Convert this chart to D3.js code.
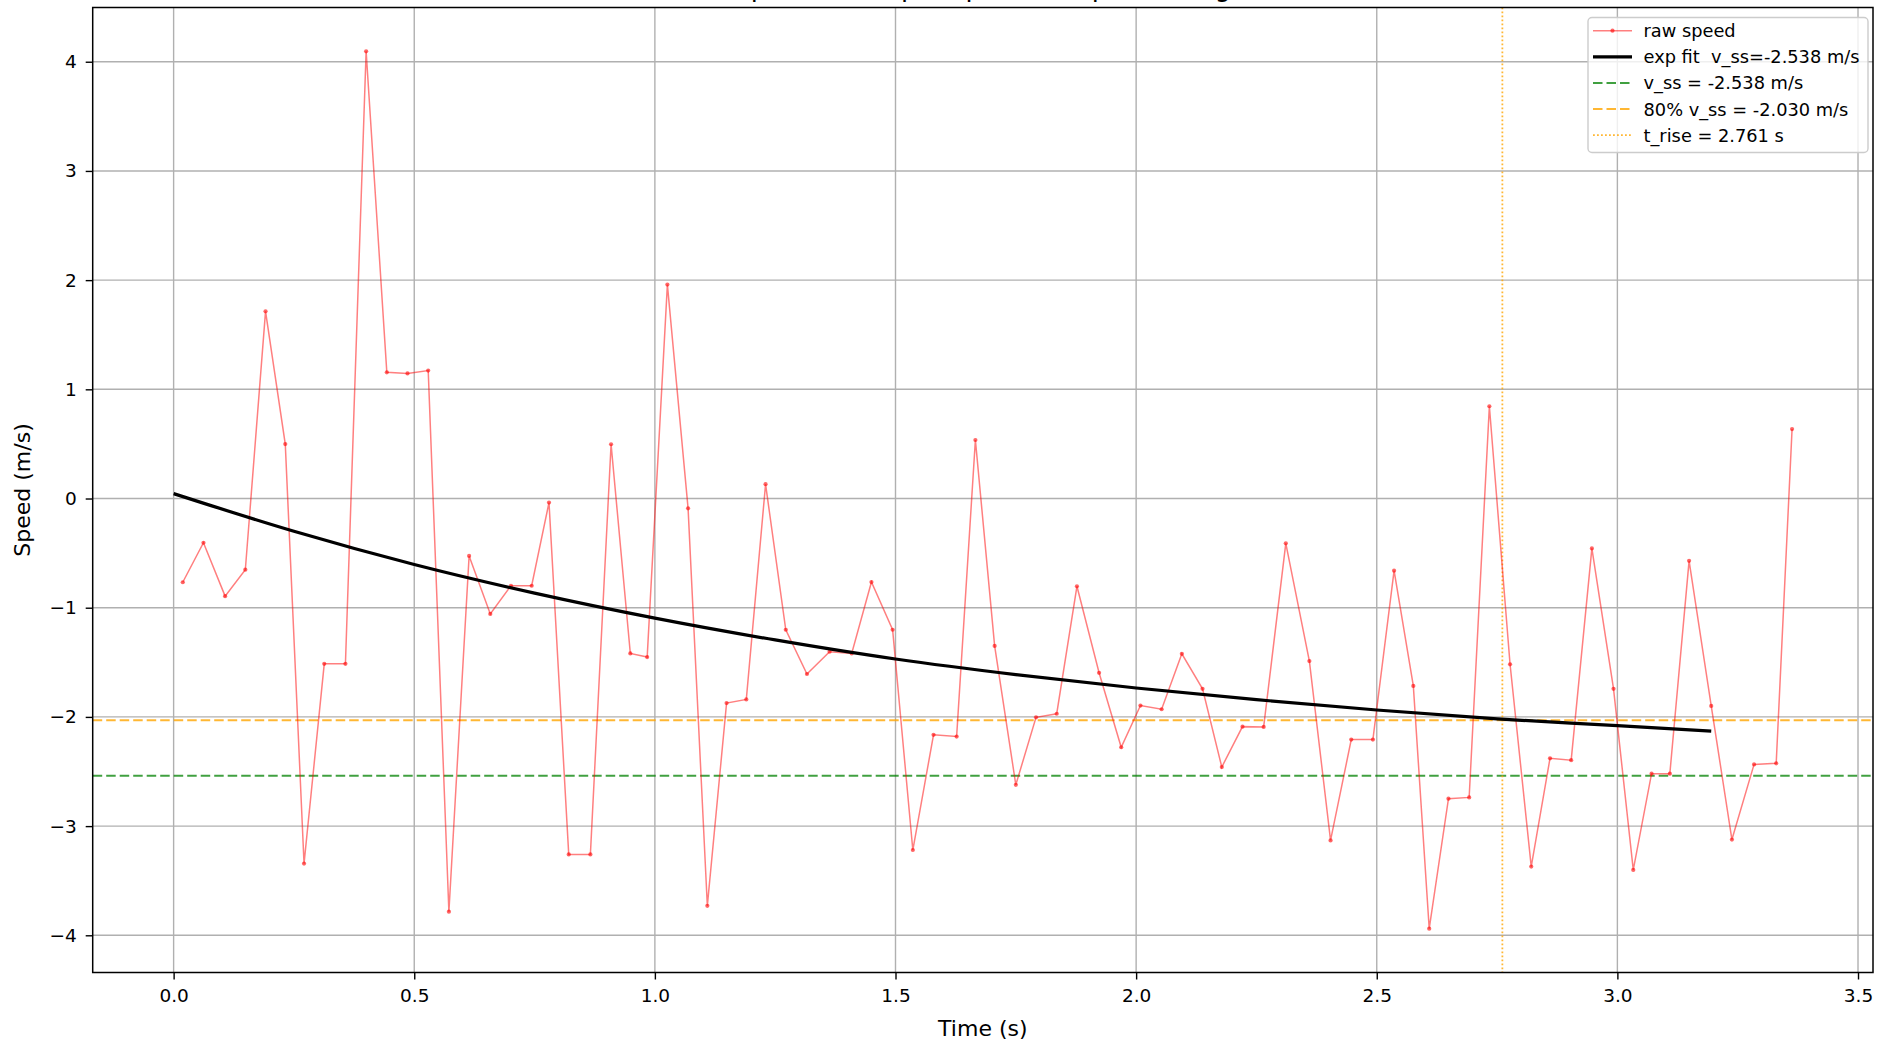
<!DOCTYPE html>
<html>
<head>
<meta charset="utf-8">
<script src="https://cdn.jsdelivr.net/npm/d3@7"></script>
<style>
  html, body { margin: 0; padding: 0; background: #fff; }
  svg { display: block; font-family: "DejaVu Sans", sans-serif; }
  .legend-text { white-space: pre; }
</style>
</head>
<body>
<div id="chart"></div>
<script>
// raw speed samples
const times = [0.019, 0.062, 0.107, 0.149, 0.191, 0.232, 0.271, 0.313, 0.357, 0.400,
  0.443, 0.486, 0.529, 0.572, 0.614, 0.658, 0.701, 0.744, 0.780, 0.821,
  0.866, 0.909, 0.949, 0.984, 1.026, 1.069, 1.109, 1.149, 1.190, 1.230,
  1.272, 1.316, 1.363, 1.409, 1.450, 1.494, 1.536, 1.579, 1.627, 1.666,
  1.706, 1.750, 1.792, 1.835, 1.877, 1.923, 1.969, 2.009, 2.053, 2.095,
  2.138, 2.178, 2.221, 2.265, 2.311, 2.360, 2.404, 2.447, 2.492, 2.536,
  2.576, 2.609, 2.649, 2.692, 2.734, 2.777, 2.821, 2.860, 2.904, 2.947,
  2.992, 3.033, 3.071, 3.109, 3.149, 3.195, 3.238, 3.284, 3.330, 3.363];
const speeds = [-0.767, -0.405, -0.894, -0.652, 1.714, 0.499, -3.343, -1.514, -1.514, 4.095,
  1.156, 1.146, 1.172, -3.784, -0.526, -1.057, -0.799, -0.799, -0.037, -3.259,
  -3.259, 0.497, -1.419, -1.452, 1.959, -0.090, -3.730, -1.873, -1.840, 0.131,
  -1.202, -1.607, -1.403, -1.419, -0.765, -1.202, -3.219, -2.164, -2.180, 0.536,
  -1.350, -2.622, -2.004, -1.971, -0.804, -1.596, -2.278, -1.896, -1.930, -1.422,
  -1.743, -2.459, -2.089, -2.092, -0.410, -1.489, -3.131, -2.208, -2.208, -0.661,
  -1.716, -3.939, -2.749, -2.737, 0.845, -1.518, -3.371, -2.379, -2.396, -0.457,
  -1.743, -3.401, -2.520, -2.520, -0.571, -1.899, -3.123, -2.435, -2.425, 0.636];

// exp fit curve, read at a few times
const fitTimes = [0, 0.25, 0.5, 0.75, 1.0, 1.25, 1.5, 1.75, 2.0, 2.25, 2.5, 2.75, 3.0, 3.195];
const fitSpeeds = [0.045, -0.300, -0.604, -0.866, -1.095, -1.295, -1.470, -1.613, -1.735, -1.842, -1.937, -2.018, -2.080, -2.131];

const vSS = -2.538;
const v80 = -2.030;
const tRise = 2.761;

const xTicks = [0.0, 0.5, 1.0, 1.5, 2.0, 2.5, 3.0, 3.5];
const yTicks = [-4, -3, -2, -1, 0, 1, 2, 3, 4];

const legendLabels = ["raw speed", "exp fit  v_ss=-2.538 m/s", "v_ss = -2.538 m/s",
  "80% v_ss = -2.030 m/s", "t_rise = 2.761 s"];

const width = 1878;
const height = 1048;
const margin = { top: 7.5, right: 5, bottom: 75.5, left: 92.7 };

const svg = d3.select("#chart").append("svg")
  .attr("width", width)
  .attr("height", height);

// 5% padding like matplotlib autoscale
const xMin = Math.min(d3.min(times), d3.min(fitTimes));
const xMax = Math.max(d3.max(times), d3.max(fitTimes));
const yMin = d3.min(speeds), yMax = d3.max(speeds);
const xPad = (xMax - xMin) * 0.05, yPad = (yMax - yMin) * 0.05;

const x = d3.scaleLinear()
  .domain([xMin - xPad, xMax + xPad])
  .range([margin.left, width - margin.right]);
const y = d3.scaleLinear()
  .domain([yMin - yPad, yMax + yPad])
  .range([height - margin.bottom, margin.top]);

const plotW = width - margin.right - margin.left;
const plotH = height - margin.bottom - margin.top;

// title (cut off by the top edge in the original, only descenders show)
svg.append("text")
  .attr("x", margin.left + plotW / 2)
  .attr("y", -4)
  .attr("text-anchor", "middle")
  .attr("font-size", 26)
  .text("Speed vs step response: exp fit, rising");

// grid
const grid = svg.append("g").attr("stroke", "#b0b0b0").attr("stroke-width", 1.4);
grid.selectAll(".gx").data(xTicks).enter().append("line")
  .attr("x1", d => x(d)).attr("x2", d => x(d))
  .attr("y1", margin.top).attr("y2", height - margin.bottom);
grid.selectAll(".gy").data(yTicks).enter().append("line")
  .attr("x1", margin.left).attr("x2", width - margin.right)
  .attr("y1", d => y(d)).attr("y2", d => y(d));

svg.append("clipPath").attr("id", "plot-clip")
  .append("rect")
  .attr("x", margin.left).attr("y", margin.top)
  .attr("width", plotW).attr("height", plotH);

const plot = svg.append("g").attr("clip-path", "url(#plot-clip)");

// reference lines
plot.append("line")
  .attr("x1", margin.left).attr("x2", width - margin.right)
  .attr("y1", y(vSS)).attr("y2", y(vSS))
  .attr("stroke", "green").attr("stroke-opacity", 0.75)
  .attr("stroke-width", 2).attr("stroke-dasharray", "9.5,4");
plot.append("line")
  .attr("x1", margin.left).attr("x2", width - margin.right)
  .attr("y1", y(v80)).attr("y2", y(v80))
  .attr("stroke", "orange").attr("stroke-opacity", 0.8)
  .attr("stroke-width", 2).attr("stroke-dasharray", "9.5,4");
plot.append("line")
  .attr("x1", x(tRise)).attr("x2", x(tRise))
  .attr("y1", margin.top).attr("y2", height - margin.bottom)
  .attr("stroke", "orange").attr("stroke-opacity", 0.8)
  .attr("stroke-width", 1.8).attr("stroke-dasharray", "1.8,2.2");

// raw speed
const raw = times.map((t, i) => ({ t: t, v: speeds[i] }));
const line = d3.line().x(d => x(d.t)).y(d => y(d.v));
plot.append("path")
  .datum(raw)
  .attr("d", line)
  .attr("fill", "none")
  .attr("stroke", "red").attr("stroke-opacity", 0.5)
  .attr("stroke-width", 1.5);
plot.selectAll(".pt").data(raw).enter().append("circle")
  .attr("cx", d => x(d.t)).attr("cy", d => y(d.v))
  .attr("r", 2.1)
  .attr("fill", "red").attr("fill-opacity", 0.6);

// exp fit
const fit = fitTimes.map((t, i) => ({ t: t, v: fitSpeeds[i] }));
plot.append("path")
  .datum(fit)
  .attr("d", line.curve(d3.curveMonotoneX))
  .attr("fill", "none")
  .attr("stroke", "black")
  .attr("stroke-width", 3.2);

// axes
const xAxis = svg.append("g")
  .attr("transform", `translate(0,${height - margin.bottom})`)
  .call(d3.axisBottom(x).tickValues(xTicks).tickFormat(d3.format(".1f")).tickSize(7).tickPadding(9));
const yAxis = svg.append("g")
  .attr("transform", `translate(${margin.left},0)`)
  .call(d3.axisLeft(y).tickValues(yTicks).tickSize(7).tickPadding(9));
[xAxis, yAxis].forEach(a => {
  a.select(".domain").remove();
  a.selectAll(".tick line").attr("stroke", "#000").attr("stroke-width", 1.4);
  a.selectAll(".tick text").attr("font-size", 18.5).attr("fill", "#000")
    .attr("font-family", "DejaVu Sans");
});

// frame
svg.append("rect")
  .attr("x", margin.left).attr("y", margin.top)
  .attr("width", plotW).attr("height", plotH)
  .attr("fill", "none").attr("stroke", "#000").attr("stroke-width", 1.5);

// axis labels
svg.append("text")
  .attr("x", margin.left + plotW / 2)
  .attr("y", 1035.5)
  .attr("text-anchor", "middle")
  .attr("font-size", 22)
  .text("Time (s)");
svg.append("text")
  .attr("transform", `translate(29.5,${margin.top + plotH / 2}) rotate(-90)`)
  .attr("text-anchor", "middle")
  .attr("font-size", 22)
  .text("Speed (m/s)");

// legend
const lg = svg.append("g").attr("transform", "translate(1588,17.5)");
lg.append("rect")
  .attr("width", 280).attr("height", 135)
  .attr("rx", 4)
  .attr("fill", "#fff").attr("fill-opacity", 0.8)
  .attr("stroke", "#cccccc").attr("stroke-width", 1.4);

const legendStyles = [
  { color: "red", opacity: 0.5, width: 1.5, dash: null, marker: true },
  { color: "black", opacity: 1, width: 3.2, dash: null, marker: false },
  { color: "green", opacity: 0.75, width: 2, dash: "9.5,4", marker: false },
  { color: "orange", opacity: 0.8, width: 2, dash: "9.5,4", marker: false },
  { color: "orange", opacity: 0.8, width: 1.8, dash: "1.8,2.2", marker: false }
];

legendLabels.forEach((label, i) => {
  const st = legendStyles[i];
  const cy = 13.2 + i * 26.1;
  const l = lg.append("line")
    .attr("x1", 5).attr("x2", 44)
    .attr("y1", cy).attr("y2", cy)
    .attr("stroke", st.color).attr("stroke-opacity", st.opacity)
    .attr("stroke-width", st.width);
  if (st.dash) l.attr("stroke-dasharray", st.dash);
  if (st.marker) {
    lg.append("circle").attr("cx", 24.5).attr("cy", cy).attr("r", 2.1)
      .attr("fill", "red").attr("fill-opacity", 0.6);
  }
  lg.append("text")
    .attr("class", "legend-text")
    .attr("x", 55.5).attr("y", cy + 6.5)
    .attr("font-size", 17.8)
    .text(label);
});
</script>
</body>
</html>
